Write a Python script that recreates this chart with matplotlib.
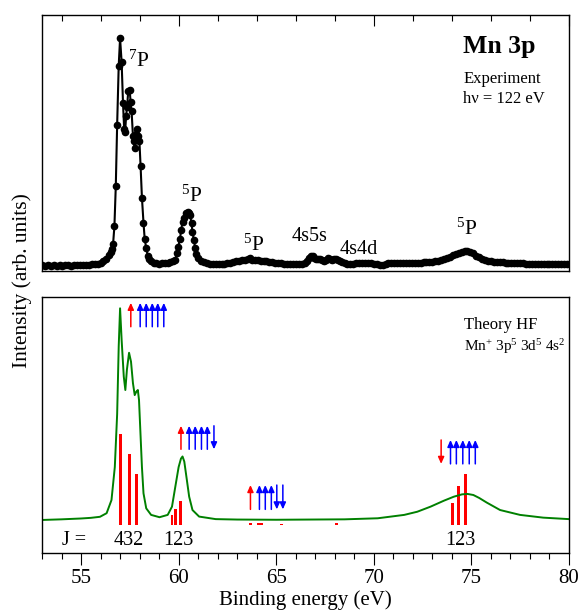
import numpy as np
import matplotlib
matplotlib.use("Agg")
import matplotlib.pyplot as plt
from matplotlib.ticker import MultipleLocator

plt.rcParams['font.family'] = ['Liberation Serif', 'DejaVu Serif']
plt.rcParams['mathtext.fontset'] = 'custom'
plt.rcParams['mathtext.rm'] = 'Liberation Serif'
plt.rcParams['mathtext.it'] = 'Liberation Serif:italic'
plt.rcParams['mathtext.bf'] = 'Liberation Serif:bold'

# experiment (top panel)
exp_energy = [53.00, 53.15, 53.30, 53.45, 53.60, 53.75, 53.90, 54.05, 54.20, 54.35,
              54.50, 54.65, 54.80, 54.95, 55.10, 55.25, 55.40, 55.55, 55.70, 55.85,
              56.00, 56.15, 56.30, 56.42, 56.51, 56.58, 56.64, 56.71, 56.78, 56.85,
              56.93, 57.00, 57.08, 57.15, 57.21, 57.26, 57.31, 57.36, 57.42, 57.49,
              57.54, 57.59, 57.66, 57.70, 57.75, 57.82, 57.88, 57.94, 57.99, 58.05,
              58.12, 58.20, 58.26, 58.34, 58.42, 58.50, 58.60, 58.72, 58.85, 59.00,
              59.15, 59.30, 59.45, 59.58, 59.70, 59.83, 59.90, 59.98, 60.07, 60.13,
              60.20, 60.27, 60.37, 60.46, 60.54, 60.59, 60.66, 60.71, 60.78, 60.85,
              60.91, 61.00, 61.14, 61.30, 61.45, 61.60, 61.75, 61.90, 62.05, 62.20,
              62.35, 62.50, 62.65, 62.80, 62.95, 63.10, 63.25, 63.40, 63.55, 63.65,
              63.75, 63.90, 64.05, 64.20, 64.35, 64.50, 64.65, 64.80, 64.95, 65.10,
              65.25, 65.40, 65.55, 65.70, 65.85, 66.00, 66.15, 66.30, 66.45, 66.56,
              66.66, 66.76, 66.86, 66.96, 67.06, 67.16, 67.26, 67.36, 67.46, 67.56,
              67.66, 67.76, 67.86, 67.96, 68.06, 68.16, 68.26, 68.38, 68.51, 68.65,
              68.80, 68.95, 69.10, 69.25, 69.40, 69.55, 69.70, 69.85, 70.00, 70.15,
              70.30, 70.45, 70.60, 70.75, 70.90, 71.05, 71.20, 71.35, 71.50, 71.65,
              71.80, 71.95, 72.10, 72.25, 72.40, 72.55, 72.70, 72.85, 73.00, 73.15,
              73.30, 73.45, 73.60, 73.75, 73.90, 74.05, 74.20, 74.35, 74.50, 74.65,
              74.80, 74.95, 75.10, 75.25, 75.40, 75.55, 75.70, 75.85, 76.00, 76.15,
              76.30, 76.45, 76.60, 76.75, 76.90, 77.05, 77.20, 77.35, 77.50, 77.65,
              77.80, 77.95, 78.10, 78.25, 78.40, 78.55, 78.70, 78.85, 79.00, 79.15,
              79.30, 79.45, 79.60, 79.75, 79.90]
exp_intensity = [0.003, 0.002, 0.004, 0.002, 0.003, 0.001, 0.003, 0.002, 0.004, 0.003,
                 0.002, 0.004, 0.003, 0.005, 0.004, 0.006, 0.005, 0.007, 0.009, 0.011,
                 0.014, 0.020, 0.032, 0.048, 0.060, 0.075, 0.095, 0.175, 0.350, 0.620,
                 0.880, 1.000, 0.895, 0.716, 0.600, 0.590, 0.660, 0.700, 0.770, 0.775,
                 0.720, 0.680, 0.570, 0.550, 0.520, 0.580, 0.600, 0.570, 0.550, 0.440,
                 0.300, 0.190, 0.120, 0.078, 0.045, 0.030, 0.020, 0.015, 0.012, 0.011,
                 0.012, 0.012, 0.014, 0.017, 0.020, 0.026, 0.056, 0.085, 0.120, 0.158,
                 0.194, 0.213, 0.231, 0.238, 0.235, 0.224, 0.187, 0.150, 0.114, 0.078,
                 0.053, 0.034, 0.022, 0.016, 0.012, 0.010, 0.009, 0.008, 0.008, 0.009,
                 0.010, 0.012, 0.014, 0.017, 0.020, 0.023, 0.026, 0.028, 0.032, 0.033,
                 0.028, 0.026, 0.027, 0.024, 0.022, 0.020, 0.018, 0.016, 0.014, 0.013,
                 0.012, 0.011, 0.010, 0.010, 0.009, 0.009, 0.009, 0.010, 0.012, 0.020,
                 0.035, 0.045, 0.042, 0.035, 0.030, 0.031, 0.032, 0.028, 0.023, 0.028,
                 0.034, 0.029, 0.026, 0.030, 0.030, 0.026, 0.023, 0.018, 0.015, 0.011,
                 0.009, 0.010, 0.012, 0.013, 0.014, 0.015, 0.015, 0.013, 0.011, 0.008,
                 0.005, 0.006, 0.010, 0.012, 0.013, 0.014, 0.015, 0.013, 0.012, 0.013,
                 0.014, 0.015, 0.015, 0.014, 0.015, 0.016, 0.017, 0.018, 0.019, 0.021,
                 0.024, 0.027, 0.030, 0.035, 0.040, 0.047, 0.054, 0.059, 0.062, 0.064,
                 0.064, 0.061, 0.055, 0.046, 0.038, 0.032, 0.027, 0.023, 0.021, 0.019,
                 0.018, 0.017, 0.016, 0.015, 0.014, 0.014, 0.013, 0.013, 0.012, 0.012,
                 0.011, 0.011, 0.010, 0.010, 0.010, 0.009, 0.009, 0.009, 0.009, 0.009,
                 0.009, 0.008, 0.009, 0.009, 0.008]

# theory (bottom panel)
hf_energy = [53.0, 54.0, 55.0, 55.5, 55.97, 56.31, 56.56, 56.73, 56.85, 56.93,
             57.00, 57.08, 57.19, 57.27, 57.35, 57.46, 57.56, 57.66, 57.75, 57.83,
             57.91, 57.97, 58.03, 58.12, 58.20, 58.34, 58.59, 59.02, 59.44, 59.66,
             59.83, 60.00, 60.12, 60.20, 60.29, 60.42, 60.54, 60.71, 61.05, 61.9,
             63.0, 65.0, 68.5, 70.2, 71.56, 72.23, 72.91, 73.59, 74.10, 74.52,
             74.80, 75.10, 75.40, 75.79, 76.47, 77.49, 78.68, 80.0]
hf_intensity = [0.000, 0.003, 0.007, 0.010, 0.015, 0.032, 0.094, 0.25, 0.50, 0.82,
                1.00, 0.85, 0.677, 0.614, 0.71, 0.79, 0.748, 0.646, 0.59, 0.606,
                0.614, 0.567, 0.44, 0.25, 0.126, 0.055, 0.024, 0.013, 0.024, 0.063,
                0.157, 0.25, 0.29, 0.30, 0.276, 0.19, 0.11, 0.047, 0.016, 0.004,
                0.002, 0.001, 0.003, 0.008, 0.024, 0.039, 0.063, 0.091, 0.110, 0.121,
                0.123, 0.118, 0.104, 0.082, 0.047, 0.024, 0.011, 0.004]

stick_energy = [57.0, 57.46, 57.86, 59.66, 59.85, 60.08, 63.68, 64.1, 64.24, 65.25,
                68.08, 74.05, 74.32, 74.69]
stick_height = [0.43, 0.335, 0.24, 0.047, 0.076, 0.115, 0.008, 0.008, 0.008, 0.006,
                0.008, 0.105, 0.184, 0.24]
stick_base = -0.024

# spin arrows: (core arrow x, core up?, valence xs, valence up?, y range)
arrow_groups = [
    (57.55, True, [58.03, 58.34, 58.65, 58.93, 59.24], [True] * 5, (0.913, 1.026)),
    (60.12, True, [60.54, 60.85, 61.17, 61.47, 61.81], [True] * 4 + [False], (0.334, 0.445)),
    (63.68, True, [64.14, 64.44, 64.75, 65.03, 65.34], [True] * 3 + [False] * 2, (0.05, 0.165)),
    (73.45, False, [73.93, 74.23, 74.56, 74.89, 75.2], [True] * 5, (0.265, 0.378)),
]

fig = plt.figure(figsize=(5.81, 6.13), dpi=100)
ax1 = fig.add_axes([0.0723, 0.5584, 0.907, 0.4166])
ax2 = fig.add_axes([0.0723, 0.0979, 0.907, 0.4171])

# top: experiment
ax1.plot(exp_energy, exp_intensity, color='black', lw=1.5, marker='o', ms=4.5,
         mec='black', mfc='black')
ax1.set_xlim(53, 80)
ax1.set_ylim(-0.0206, 1.101)
ax1.set_yticks([])
ax1.xaxis.set_major_locator(MultipleLocator(10))
ax1.xaxis.set_minor_locator(MultipleLocator(2))
ax1.tick_params(axis='x', which='both', direction='in', bottom=False, top=True,
                labelbottom=False)
ax1.tick_params(axis='x', which='major', length=8, width=0.8)
ax1.tick_params(axis='x', which='minor', length=4.5, width=0.8)

ax1.text(57.39, 0.874, r'$^{7}$P', fontsize=15.5)
ax1.text(60.12, 0.282, r'$^{5}$P', fontsize=15.5)
ax1.text(63.29, 0.067, r'$^{5}$P', fontsize=15.5)
ax1.text(74.22, 0.136, r'$^{5}$P', fontsize=15.5)
ax1.text(65.78, 0.111, '4s5s', fontsize=14.5)
ax1.text(68.25, 0.053, '4s4d', fontsize=14.5)
ax1.text(0.799, 0.851, 'Mn 3p', transform=ax1.transAxes, fontsize=18.5,
         fontweight='bold')
ax1.text(0.799, 0.734, 'Experiment', transform=ax1.transAxes, fontsize=12)
ax1.text(0.799, 0.658, 'h\u03bd = 122 eV', transform=ax1.transAxes, fontsize=12)

# bottom: theory
ax2.plot(hf_energy, hf_intensity, color='#008000', lw=1.4)
ax2.bar(stick_energy, stick_height, width=0.15, bottom=stick_base, color='red',
        linewidth=0)
for core_x, core_up, val_xs, val_up, (y0, y1) in arrow_groups:
    xs = [core_x] + val_xs
    ups = [core_up] + val_up
    cols = ['red'] + ['blue'] * len(val_xs)
    for x, up, c in zip(xs, ups, cols):
        tail, tip = (y0, y1) if up else (y1, y0)
        ax2.annotate('', xy=(x, tip), xytext=(x, tail),
                     arrowprops=dict(arrowstyle='-|>,head_width=0.18,head_length=0.4',
                                     color=c, lw=1.1, shrinkA=0, shrinkB=0))

ax2.set_xlim(53, 80)
ax2.set_ylim(-0.156, 1.052)
ax2.set_yticks([])
ax2.xaxis.set_major_locator(MultipleLocator(5))
ax2.xaxis.set_minor_locator(MultipleLocator(1))
ax2.tick_params(axis='x', which='both', direction='out', labelsize=15)
ax2.tick_params(axis='x', which='major', length=8.5, width=0.8, pad=3)
ax2.tick_params(axis='x', which='minor', length=4, width=0.8)
ax2.set_xlabel('Binding energy (eV)', fontsize=15, labelpad=2)

ax2.text(54.02, -0.118, 'J =', fontsize=14.5)
ax2.text(57.45, -0.118, '432', fontsize=14.5, ha='center')
ax2.text(59.99, -0.118, '123', fontsize=14.5, ha='center')
ax2.text(74.44, -0.118, '123', fontsize=14.5, ha='center')
ax2.text(0.801, 0.875, 'Theory HF', transform=ax2.transAxes, fontsize=12)
ax2.text(0.801, 0.79, r'Mn$^{+}$ 3p$^{5}$ 3d$^{5}$ 4s$^{2}$', transform=ax2.transAxes,
         fontsize=11)

for ax in (ax1, ax2):
    for s in ax.spines.values():
        s.set_linewidth(1.0)

fig.text(0.038, 0.543, 'Intensity (arb. units)', rotation=90, fontsize=15.5,
         ha='center', va='center')

fig.savefig('out.png', dpi=100)
